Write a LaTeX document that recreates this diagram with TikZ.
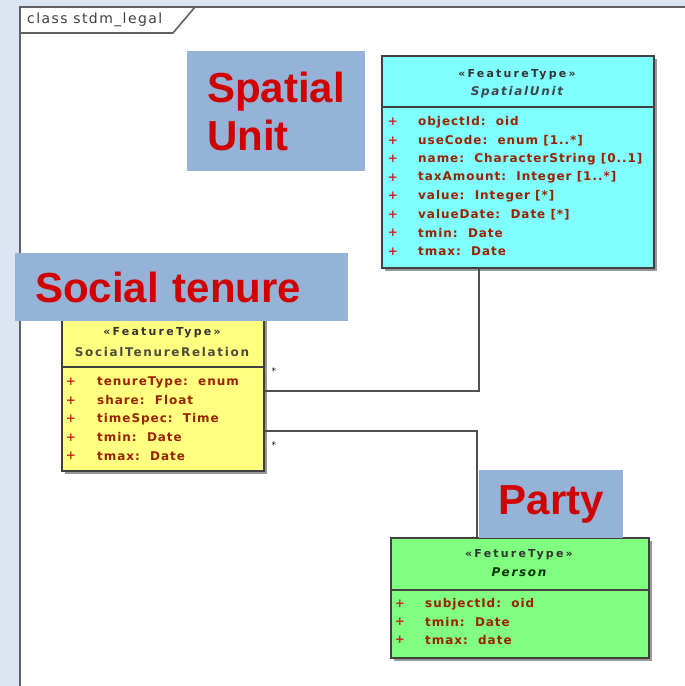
\documentclass[tikz,border=0pt]{standalone}
\usepackage{fontspec}
\setmainfont{DejaVu Sans}
\newfontfamily\lblfont{Liberation Sans}
\newfontfamily\attrf[LetterSpace=8]{DejaVu Sans}
\newfontfamily\stf[LetterSpace=20]{DejaVu Sans}
\newfontfamily\nmf[LetterSpace=14]{DejaVu Sans}
\newfontfamily\tabf[LetterSpace=10]{DejaVu Sans}
\usetikzlibrary{shadows,calc}
\definecolor{bgblue}{HTML}{DCE6F2}
\definecolor{framec}{HTML}{606060}
\definecolor{lblblue}{HTML}{95B3D7}
\definecolor{lblred}{HTML}{D00000}
\definecolor{cyanf}{HTML}{80FFFF}
\definecolor{yellowf}{HTML}{FFFF80}
\definecolor{greenf}{HTML}{80FF80}
\definecolor{boxline}{HTML}{404040}
\definecolor{attrc}{HTML}{992200}
\definecolor{plusc}{HTML}{CC2222}
\definecolor{stc}{HTML}{333333}
\definecolor{connc}{HTML}{505050}
\tikzset{
  box/.style={draw=boxline, line width=1.8pt, anchor=north west, inner sep=0pt,
    drop shadow={shadow xshift=3pt, shadow yshift=-3pt, fill=black, opacity=.4}},
  lbl/.style={fill=lblblue, anchor=north west, inner ysep=0pt,
    font=\lblfont\bfseries\fontsize{42}{50}\selectfont, text=lblred},
  attr/.style={anchor=west, inner sep=0pt, font=\attrf\bfseries\fontsize{12}{14}\selectfont, text=attrc},
  plus/.style={anchor=center, inner sep=0pt, font=\attrf\bfseries\fontsize{12}{14}\selectfont, text=plusc},
  stereo/.style={inner sep=0pt, font=\stf\bfseries\fontsize{11}{13}\selectfont, text=stc},
  cname/.style={inner sep=0pt, font=\nmf\bfseries\fontsize{12}{14}\selectfont},
  conn/.style={draw=connc, line width=1.6pt},
  divider/.style={draw=boxline, line width=1.8pt},
  mult/.style={inner sep=0pt, font=\fontsize{9}{11}\selectfont, text=black},
  framel/.style={draw=framec, line width=1.6pt}
}
\begin{document}
\begin{tikzpicture}[x=1pt,y=-1pt]
\useasboundingbox (0,0) rectangle (685,686);
% frame
\fill[bgblue] (0,0) rectangle (685,686);
\fill[white] (20,7) rectangle (685,686);
\draw[framel] (20,686) -- (20,7) -- (685,7);
\draw[framel] (20,33) -- (173,33) -- (195,7);
\node[anchor=west, inner sep=0pt, font=\tabf\fontsize{14}{16}\selectfont, text=boxline] (tab) at (27,20) {class stdm\_legal};

% boxes
\node[box, fill=cyanf, minimum width=272pt, minimum height=212pt] (su) at (381,55) {};
\node[box, fill=yellowf, minimum width=202pt, minimum height=160pt] (str) at (61,310) {};
\node[box, fill=greenf, minimum width=258pt, minimum height=120pt] (per) at (390,537) {};

% connectors
\draw[conn] ([xshift=-39pt]su.south) |- (str.east);
\draw[conn] ([yshift=-40pt]str.east) -| ([xshift=-43pt]per.north);
\node[mult] (m1) at ([xshift=9pt,yshift=20pt]str.east) {*};
\node[mult] (m2) at ([xshift=9pt,yshift=-54pt]str.east) {*};

% SpatialUnit
\draw[divider] (su.west |- 0,107) -- (su.east |- 0,107);
\node[stereo] (su-st) at (517,75) {«FeatureType»};
\node[cname, text=black!80!cyan] (su-nm) at (517,92) {\itshape SpatialUnit};
\foreach \t [count=\i] in {{objectId:~~oid},{useCode:~~enum [1..*]},{name:~~CharacterString [0..1]},{taxAmount:~~Integer [1..*]},{value:~~Integer [*]},{valueDate:~~Date [*]},{tmin:~~Date},{tmax:~~Date}}{
  \node[plus] (su-p\i) at (393,{122+18.5*(\i-1)}) {+};
  \node[attr] (su-a\i) at (418,{122+18.5*(\i-1)}) {\t};
}

% SocialTenureRelation
\draw[divider] (str.west |- 0,367) -- (str.east |- 0,367);
\node[stereo] (str-st) at (162,333) {«FeatureType»};
\node[cname, text=black!80!yellow] (str-nm) at (162,352) {SocialTenureRelation};
\foreach \t [count=\i] in {{tenureType:~~enum},{share:~~Float},{timeSpec:~~Time},{tmin:~~Date},{tmax:~~Date}}{
  \node[plus] (str-p\i) at (71,{382+18.5*(\i-1)}) {+};
  \node[attr] (str-a\i) at (97,{382+18.5*(\i-1)}) {\t};
}

% Person
\draw[divider] (per.west |- 0,590) -- (per.east |- 0,590);
\node[stereo] (per-st) at (519,555) {«FetureType»};
\node[cname, text=black!80!green] (per-nm) at (519,572) {\itshape Person};
\foreach \t [count=\i] in {{subjectId:~~oid},{tmin:~~Date},{tmax:~~date}}{
  \node[plus] (per-p\i) at (400,{604+18*(\i-1)}) {+};
  \node[attr] (per-a\i) at (425,{604+18*(\i-1)}) {\t};
}

% labels
\node[lbl, minimum height=120pt, text width=138pt, inner xsep=20pt, align=left] (lspatial) at (187,51) {Spatial\\[-2pt]Unit};
\node[lbl, minimum height=68pt, text width=293pt, inner xsep=20pt, align=left] (lsocial) at (15,253) {Social tenure};
\node[lbl, minimum height=68pt, minimum width=144pt, inner xsep=0pt, align=center] (lparty) at (479,470) {Party};
\end{tikzpicture}
\end{document}
